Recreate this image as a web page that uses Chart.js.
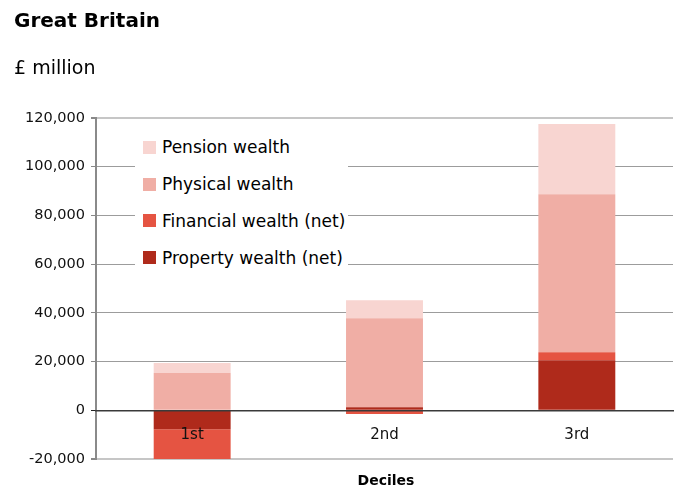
<!DOCTYPE html>
<html>
<head>
<meta charset="utf-8">
<title>Wealth by decile</title>
<script src="https://cdn.jsdelivr.net/npm/chart.js@4.4.1/dist/chart.umd.min.js"></script>
<style>
  html, body { margin: 0; padding: 0; background: #fff; }
  #wrap { position: relative; width: 680px; height: 488px; font-family: "DejaVu Sans", sans-serif; color: #000; }
  #chart-box { position: absolute; left: 0; top: 0; width: 680px; height: 488px; }
  .title { position: absolute; left: 14px; top: 10px; font-size: 20px; line-height: 20px; font-weight: bold; }
  .unit { position: absolute; left: 14px; top: 58px; font-size: 19px; line-height: 19px; }
  .axis-title { position: absolute; left: 336px; width: 100px; top: 473px; text-align: center; font-size: 14px; line-height: 14px; font-weight: bold; }
  #legend { position: absolute; left: 135px; top: 129px; width: 213px; background: #fff; padding-bottom: 4px; }
  #legend .item { height: 36.8px; display: flex; align-items: center; font-size: 17px; white-space: nowrap; }
  #legend .swatch { width: 13px; height: 13px; margin-left: 8px; margin-right: 6px; flex: none; }
</style>
</head>
<body>
<div id="wrap">
  <div id="chart-box"><canvas id="chart"></canvas></div>
  <div class="title">Great Britain</div>
  <div class="unit">£ million</div>
  <div class="axis-title">Deciles</div>
  <div id="legend"></div>
</div>
<script>
  // Categories and series (£ million), stacked bottom to top
  const deciles = ['1st', '2nd', '3rd'];
  const propertyWealth = [-7800, 1200, 20500];
  const financialWealth = [-12200, -1500, 3300];
  const physicalWealth = [15300, 36600, 64900];
  const pensionWealth = [4100, 7400, 28800];

  const seriesNames = ['Property wealth (net)', 'Financial wealth (net)', 'Physical wealth', 'Pension wealth'];
  const seriesColors = ['#af2a1b', '#e55442', '#f0aea5', '#f8d5d1'];
  const seriesValues = [propertyWealth, financialWealth, physicalWealth, pensionWealth];

  const yMin = -20000;
  const yMax = 120000;
  const yStep = 20000;

  const datasets = seriesNames.map((name, i) => ({
    label: name,
    data: seriesValues[i],
    backgroundColor: seriesColors[i],
    borderWidth: 0,
    categoryPercentage: 0.4,
    barPercentage: 1.0
  }));

  // legend lists the top of the stack first
  const legend = document.getElementById('legend');
  seriesNames.slice().reverse().forEach((name, k) => {
    const idx = seriesNames.length - 1 - k;
    const row = document.createElement('div');
    row.className = 'item';
    const sw = document.createElement('span');
    sw.className = 'swatch';
    sw.style.background = seriesColors[idx];
    const txt = document.createElement('span');
    txt.textContent = name;
    row.appendChild(sw);
    row.appendChild(txt);
    legend.appendChild(row);
  });

  Chart.defaults.font.family = '"DejaVu Sans", sans-serif';
  Chart.defaults.color = '#111';

  new Chart(document.getElementById('chart'), {
    type: 'bar',
    data: { labels: deciles, datasets: datasets },
    options: {
      responsive: true,
      maintainAspectRatio: false,
      animation: false,
      layout: { padding: { left: 0, right: 7, top: 118, bottom: 29 } },
      plugins: {
        legend: { display: false },
        tooltip: { enabled: false }
      },
      scales: {
        x: {
          stacked: true,
          // category axis sits on the zero line, drawn over the bars
          position: { y: 0 },
          grid: { display: true, drawOnChartArea: false, drawTicks: false },
          border: { display: true, color: '#3a3a3a', width: 1.5, z: 1 },
          ticks: { padding: 16, font: { size: 15 }, color: '#111', z: 1 }
        },
        y: {
          stacked: true,
          min: yMin,
          max: yMax,
          afterFit: (scale) => { scale.width = 96; },
          ticks: {
            stepSize: yStep,
            padding: 6,
            font: { size: 14.5 },
            color: '#111',
            callback: (v) => v.toLocaleString('en-GB')
          },
          grid: {
            tickLength: 5,
            color: (ctx) => {
              const v = ctx.tick && ctx.tick.value;
              if (v === 0) return '#3a3a3a';
              if (v === yMin || v === yMax) return '#c6c6c6';
              return '#9c9c9c';
            },
            lineWidth: (ctx) => {
              const v = ctx.tick && ctx.tick.value;
              return (v === yMin || v === yMax) ? 2 : 1;
            },
            tickColor: (ctx) => (ctx.tick && ctx.tick.value === 0) ? '#222' : '#888'
          },
          border: { display: true, color: '#8a8a8a', width: 2 }
        }
      }
    }
  });
</script>
</body>
</html>
